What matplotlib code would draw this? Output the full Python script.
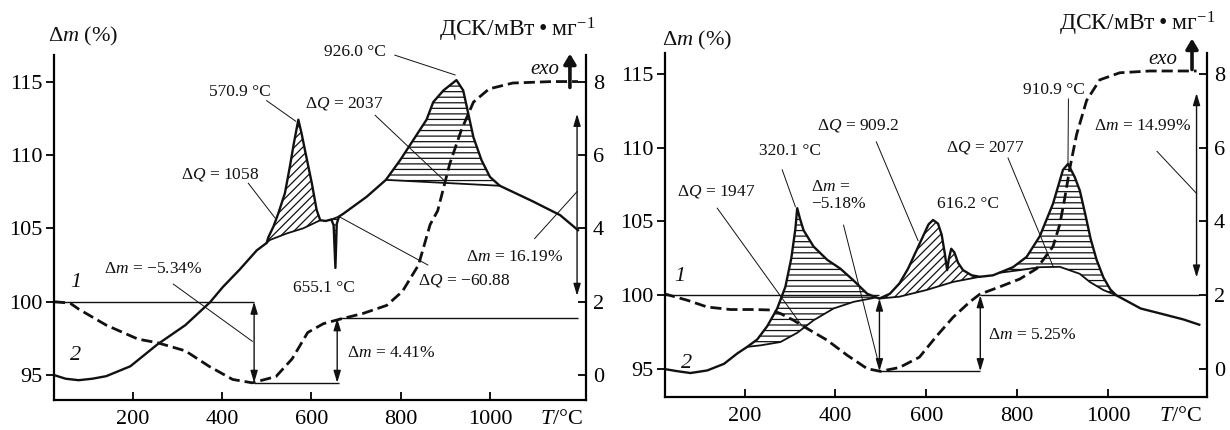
import numpy as np
import matplotlib
matplotlib.use("Agg")
import matplotlib.pyplot as plt

plt.rcParams['font.family'] = ['Liberation Serif', 'DejaVu Serif']
plt.rcParams['mathtext.fontset'] = 'custom'
plt.rcParams['mathtext.rm'] = 'Liberation Serif'
plt.rcParams['mathtext.it'] = 'Liberation Serif:italic'
plt.rcParams['hatch.linewidth'] = 0.9

# ---- data: temperature (deg C), TG mass (%), DSC (mW/mg) ----
x_ticks = [200, 400, 600, 800, 1000]
m_ticks = [95, 100, 105, 110, 115]
dsc_ticks = [0, 2, 4, 6, 8]

# left sample
tg1_T = [24, 60, 79, 141, 212, 256, 318, 371, 424, 468, 521, 557, 592, 627, 663,
         716, 769, 804, 840, 866, 883, 910, 936, 963, 998, 1051, 1139, 1197]
tg1_m = [100.0, 99.9, 99.5, 98.4, 97.45, 97.2, 96.65, 95.6, 94.7, 94.47, 94.9, 96.1,
         97.9, 98.5, 98.8, 99.2, 99.75, 100.7, 102.5, 105.25, 106.2, 109.4, 111.7,
         113.6, 114.5, 114.9, 115.0, 115.0]
dsc1_T = [24, 50, 79, 110, 141, 195, 256, 318, 373, 402, 440, 478, 500, 504, 515, 526,
          541, 552, 561, 571, 578, 586, 601, 612, 620, 632, 645, 650, 654, 657, 662,
          672, 724, 767, 799, 828, 858, 873, 896, 925, 940, 948, 963, 981, 1000, 1022,
          1095, 1157, 1197]
dsc1_v = [0.00, -0.10, -0.14, -0.10, -0.03, 0.24, 0.84, 1.36, 1.98, 2.40, 2.88, 3.40,
          3.60, 3.76, 4.04, 4.40, 4.96, 5.68, 6.32, 6.96, 6.60, 6.12, 5.24, 4.50, 4.22,
          4.20, 4.24, 4.08, 2.92, 4.12, 4.32, 4.40, 4.86, 5.32, 5.86, 6.40, 6.96, 7.44,
          7.76, 8.04, 7.76, 7.32, 6.48, 5.86, 5.40, 5.16, 4.74, 4.36, 3.95]
base1a_T = [500, 507, 545, 582, 620]
base1a_v = [3.60, 3.68, 3.86, 4.00, 4.22]
base1b_T = [645, 662]
base1b_v = [4.24, 4.32]
base1c_T = [767, 1022]
base1c_v = [5.32, 5.16]

# right sample
tg2_T = [23, 74, 118, 169, 220, 257, 279, 308, 338, 382, 426, 470, 499, 541, 585, 622,
         659, 696, 718, 762, 806, 843, 879, 894, 905, 916, 931, 953, 982, 1026, 1092, 1195]
tg2_m = [100.1, 99.66, 99.2, 99.03, 99.03, 99.0, 98.76, 98.3, 97.74, 96.95, 95.93,
         95.02, 94.84, 95.1, 95.8, 97.2, 98.5, 99.55, 100.07, 100.57, 101.1, 101.8,
         103.3, 104.8, 106.6, 108.6, 110.9, 113.2, 114.6, 115.08, 115.2, 115.2]
dsc2_T = [23, 52, 81, 118, 155, 184, 206, 228, 250, 272, 290, 303, 312, 316, 322, 330,
          352, 382, 411, 440, 470, 490, 497, 520, 541, 560, 575, 593, 605, 615, 626, 634,
          641, 646, 650, 655, 662, 670, 681, 700, 718, 747, 791, 821, 850, 879, 901, 912,
          927, 938, 950, 962, 975, 990, 1005, 1018, 1072, 1123, 1167, 1201]
dsc2_v = [0.00, -0.06, -0.11, -0.04, 0.14, 0.42, 0.60, 0.80, 1.16, 1.64, 2.23, 3.00,
          3.80, 4.36, 4.08, 3.76, 3.32, 2.96, 2.72, 2.40, 2.04, 1.94, 1.91, 2.04, 2.32,
          2.72, 3.12, 3.60, 3.92, 4.04, 3.94, 3.64, 3.12, 2.68, 3.00, 3.26, 3.16, 2.88,
          2.68, 2.54, 2.50, 2.54, 2.76, 3.04, 3.60, 4.48, 5.40, 5.56, 5.20, 4.84, 4.20,
          3.52, 2.96, 2.48, 2.16, 2.00, 1.64, 1.48, 1.34, 1.20]
base2a_T = [206, 235, 279, 316, 352, 396, 440, 490]
base2a_v = [0.60, 0.64, 0.73, 0.98, 1.32, 1.64, 1.82, 1.94]
base2b_T = [497, 541, 600, 659, 718]
base2b_v = [1.91, 1.96, 2.14, 2.36, 2.50]
base2c_T = [762, 806, 850, 894, 938, 960, 990, 1018]
base2c_v = [2.61, 2.68, 2.76, 2.77, 2.58, 2.36, 2.14, 2.00]

# ---- figure ----
W, H = 1230, 430
fig = plt.figure(figsize=(W / 100, H / 100), dpi=100)
K = '#111111'
FS_TICK = 16
FS_NOTE = 12.5
DSC_LABEL = 'ДСК/мВт\u2009•\u2009мг$^{-1}$'


def rect(x0, x1, ytop, ybot):
    return [x0 / W, 1 - ybot / H, (x1 - x0) / W, (ybot - ytop) / H]


def make_panel(r, xlim, ylim):
    ax = fig.add_axes(r)
    ax.set_xlim(*xlim)
    ax.set_ylim(*ylim)
    ax.spines['top'].set_visible(False)
    ax.spines['right'].set_visible(False)
    for s in ('left', 'bottom'):
        ax.spines[s].set_linewidth(1.6)
    ax.set_xticks(x_ticks)
    ax.set_yticks(m_ticks)
    ax.tick_params(axis='x', direction='in', length=6, width=1.3, labelsize=FS_TICK, pad=7)
    ax.tick_params(axis='y', direction='out', length=6, width=1.3, labelsize=FS_TICK, pad=2)
    tw = ax.twinx()
    tw.set_ylim((ylim[0] - 95) * 0.4, (ylim[1] - 95) * 0.4)
    for s in ('top', 'left', 'bottom'):
        tw.spines[s].set_visible(False)
    tw.spines['right'].set_linewidth(1.6)
    tw.set_yticks(dsc_ticks)
    tw.tick_params(axis='y', direction='in', length=6, width=1.3, labelsize=FS_TICK, pad=5)
    ax.annotate('$T$/°C', xy=(1160, 0), xycoords=ax.get_xaxis_transform(),
                xytext=(0, -7), textcoords='offset points', ha='center', va='top',
                fontsize=FS_TICK)
    return ax, tw


def draw_curves(ax, tw, tgT, tgm, dT, dv, bases):
    ax.plot(tgT, tgm, color=K, lw=2.0, ls=(0, (4, 1.8)))
    tw.plot(dT, dv, color=K, lw=1.7)
    dT = np.asarray(dT)
    dv = np.asarray(dv)
    for bT, bv, hatch in bases:
        sel = (dT >= bT[0]) & (dT <= bT[-1])
        px = np.concatenate([dT[sel], bT[::-1]])
        py = np.concatenate([dv[sel], bv[::-1]])
        tw.fill(px, py, facecolor='none', edgecolor=K, hatch=hatch, lw=0)
        tw.plot(bT, bv, color=K, lw=1.3)


def note(ax, s, x, y, ha='center', fs=FS_NOTE, **kw):
    ax.text(x, y, s, ha=ha, va='center', fontsize=fs, color=K, **kw)


def leader(ax, p0, p1):
    ax.plot([p0[0], p1[0]], [p0[1], p1[1]], color=K, lw=0.7, clip_on=False)


def darrow(ax, x, y0, y1):
    ax.annotate('', xy=(x, y1), xytext=(x, y0),
                arrowprops=dict(arrowstyle='<|-|>,head_length=0.6,head_width=0.18',
                                color=K, lw=1.0, mutation_scale=12, shrinkA=0, shrinkB=0))


def exo(ax, xt, yt, xa, ya0, ya1):
    note(ax, 'exo', xt, yt, fs=15, style='italic')
    ax.annotate('', xy=(xa, ya1), xytext=(xa, ya0), annotation_clip=False,
                arrowprops=dict(arrowstyle='-|>,head_length=0.5,head_width=0.3',
                                color=K, lw=2.6, mutation_scale=12, shrinkA=0, shrinkB=0))


# ---- left panel ----
axL, twL = make_panel(rect(54, 586, 55, 400), (24, 1215), (93.30, 116.81))
draw_curves(axL, twL, tg1_T, tg1_m, dsc1_T, dsc1_v,
            [(base1a_T, base1a_v, '////'), (base1b_T, base1b_v, '---'),
             (base1c_T, base1c_v, '---')])
axL.hlines(100, 24, 472, color=K, lw=1.0)
axL.hlines(98.87, 662, 1198, color=K, lw=1.0)
axL.hlines(94.47, 472, 662, color=K, lw=1.0)
darrow(axL, 472, 100, 94.47)
darrow(axL, 658, 98.87, 94.47)
darrow(axL, 1195, 100.4, 112.8)
note(axL, '1', 72, 101.3, fs=16, style='italic')
note(axL, '2', 72, 96.3, fs=16, style='italic')
note(axL, 'Δ$m$ = −5.34%', 245, 102.25)
leader(axL, (291, 101.2), (468, 97.3))
note(axL, 'Δ$m$ = 4.41%', 680, 96.5, ha='left')
note(axL, '570.9 °C', 441, 114.3)
leader(axL, (500, 113.7), (565, 112.3))
note(axL, 'Δ$Q$ = 1058', 397, 108.7)
leader(axL, (459, 108.07), (519, 105.7))
note(axL, '655.1 °C', 629, 100.9)
note(axL, 'Δ$Q$ = −60.88', 942, 101.45)
leader(axL, (861, 102.5), (662, 105.8))
note(axL, '926.0 °C', 698, 117.0)
leader(axL, (787, 116.8), (922, 115.45))
note(axL, 'Δ$Q$ = 2037', 673, 113.5)
leader(axL, (743, 112.7), (896, 108.3))
note(axL, 'Δ$m$ = 16.19%', 1056, 103.05)
leader(axL, (1100, 104.3), (1195, 107.5))
exo(axL, 1124, 115.8, 1179, 114.6, 116.9)
note(axL, 'Δ$m$ (%)', 89, 118.1, fs=16)
note(axL, DSC_LABEL, 1060, 118.5, fs=17)

# ---- right panel ----
axR, twR = make_panel(rect(665, 1207, 53, 397), (25, 1218), (93.10, 116.42))
draw_curves(axR, twR, tg2_T, tg2_m, dsc2_T, dsc2_v,
            [(base2a_T, base2a_v, '---'), (base2b_T, base2b_v, '////'),
             (base2c_T, base2c_v, '---')])
axR.hlines(100, 25, 497, color=K, lw=1.0)
axR.hlines(100, 718, 1201, color=K, lw=1.0)
axR.hlines(94.85, 497, 718, color=K, lw=1.0)
darrow(axR, 497, 99.77, 94.85)
darrow(axR, 719, 100, 94.85)
darrow(axR, 1195, 101.2, 113.7)
note(axR, '1', 58, 101.25, fs=16, style='italic')
note(axR, '2', 72, 95.4, fs=16, style='italic')
note(axR, '320.1 °C', 301, 109.8)
leader(axR, (283, 108.5), (312, 106.0))
note(axR, 'Δ$Q$ = 1947', 138, 107.0)
leader(axR, (140, 105.9), (327, 97.9))
note(axR, 'Δ$m$ =\n−5.18%', 347, 106.75, ha='left', linespacing=1.1)
leader(axR, (418, 104.75), (495, 95.4))
note(axR, 'Δ$Q$ = 909.2', 450, 111.5)
leader(axR, (490, 110.4), (582, 103.7))
note(axR, '616.2 °C', 693, 106.2)
note(axR, 'Δ$Q$ = 2077', 730, 110.0)
leader(axR, (780, 109.3), (880, 101.9))
note(axR, '910.9 °C', 881, 113.9)
leader(axR, (913, 113.3), (912, 109.0))
note(axR, 'Δ$m$ = 14.99%', 1077, 111.45)
leader(axR, (1108, 109.75), (1195, 106.9))
note(axR, 'Δ$m$ = 5.25%', 736, 97.3, ha='left')
exo(axR, 1121, 116.0, 1185, 115.3, 117.4)
note(axR, 'Δ$m$ (%)', 95, 117.3, fs=16)
note(axR, DSC_LABEL, 1065, 118.4, fs=17)

fig.savefig('out.png', dpi=100)
